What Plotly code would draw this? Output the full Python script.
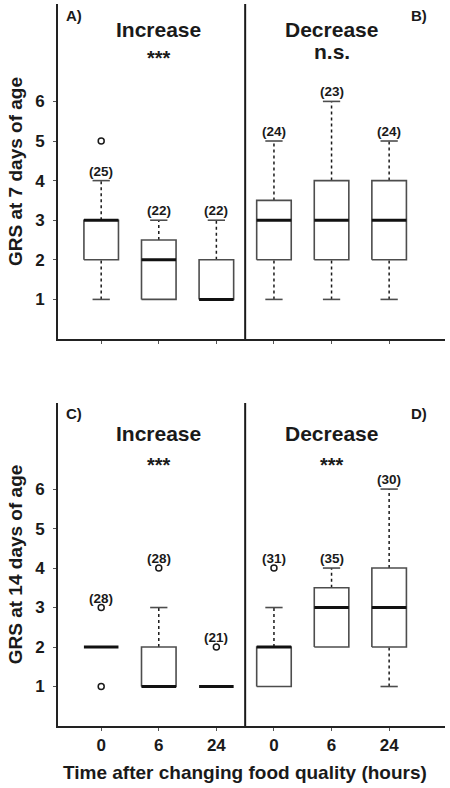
import plotly.graph_objects as go

# ---------------- data ----------------
categories = ["0", "6", "24"]
groups = ["Increase", "Decrease"]

# Top row: GRS at 7 days of age (Increase: 0,6,24 ; Decrease: 0,6,24)
top_q1 = [2, 1, 1, 2, 2, 2]
top_med = [3, 2, 1, 3, 3, 3]
top_q3 = [3, 2.5, 2, 3.5, 4, 4]
top_lo = [1, 1, 1, 1, 1, 1]
top_hi = [4, 3, 3, 5, 6, 5]
top_out = [[5], [], [], [], [], []]
top_n = [25, 22, 22, 24, 23, 24]
top_label_at = [4, 3, 3, 5, 6, 5]
top_signif = ["***", "n.s."]
top_letters = ["A)", "B)"]

# Bottom row: GRS at 14 days of age
bot_q1 = [2, 1, 1, 1, 2, 2]
bot_med = [2, 1, 1, 2, 3, 3]
bot_q3 = [2, 2, 1, 2, 3.5, 4]
bot_lo = [2, 1, 1, 1, 2, 1]
bot_hi = [2, 3, 1, 3, 4, 6]
bot_out = [[3, 1], [4], [2], [4], [], []]
bot_n = [28, 28, 21, 31, 35, 30]
bot_label_at = [3, 4, 2, 4, 4, 6]
bot_signif = ["***", "***"]
bot_letters = ["C)", "D)"]

yticks = [1, 2, 3, 4, 5, 6]

# ---------------- style ----------------
FONT = "Liberation Sans, Arial, sans-serif"
TXT = "#1a1a1a"
BOXC = "#4d4d4d"
HW = 0.30   # half box width (x units)
CW = 0.15   # half cap width

fig = go.Figure()
annotations = []


def add_panel(xa, ya, q1, med, q3, lo, hi, outs, ns, label_at):
    xref = "x" if xa == "x" else "x2"
    yref = "y" if ya == "y" else "y2"
    for i in range(len(q1)):
        p = i + 1
        # whiskers (dotted)
        if hi[i] > q3[i]:
            fig.add_trace(go.Scatter(x=[p, p], y=[q3[i], hi[i]], mode="lines",
                                     line=dict(color=TXT, width=1.5, dash="dot"),
                                     xaxis=xa, yaxis=ya, hoverinfo="skip"))
            fig.add_trace(go.Scatter(x=[p - CW, p + CW], y=[hi[i], hi[i]], mode="lines",
                                     line=dict(color=BOXC, width=1.6),
                                     xaxis=xa, yaxis=ya, hoverinfo="skip"))
        if lo[i] < q1[i]:
            fig.add_trace(go.Scatter(x=[p, p], y=[lo[i], q1[i]], mode="lines",
                                     line=dict(color=TXT, width=1.5, dash="dot"),
                                     xaxis=xa, yaxis=ya, hoverinfo="skip"))
            fig.add_trace(go.Scatter(x=[p - CW, p + CW], y=[lo[i], lo[i]], mode="lines",
                                     line=dict(color=BOXC, width=1.6),
                                     xaxis=xa, yaxis=ya, hoverinfo="skip"))
        # box
        if q3[i] > q1[i]:
            fig.add_trace(go.Scatter(x=[p - HW, p + HW, p + HW, p - HW, p - HW],
                                     y=[q1[i], q1[i], q3[i], q3[i], q1[i]], mode="lines",
                                     line=dict(color=BOXC, width=1.6),
                                     xaxis=xa, yaxis=ya, hoverinfo="skip"))
        # median
        fig.add_trace(go.Scatter(x=[p - HW, p + HW], y=[med[i], med[i]], mode="lines",
                                 line=dict(color="#111111", width=3),
                                 xaxis=xa, yaxis=ya, hoverinfo="skip"))
        # outliers
        if outs[i]:
            fig.add_trace(go.Scatter(x=[p] * len(outs[i]), y=outs[i], mode="markers",
                                     marker=dict(symbol="circle-open", size=6,
                                                 color=TXT, line=dict(width=1.5)),
                                     xaxis=xa, yaxis=ya, hoverinfo="skip"))
        # counts
        annotations.append(dict(text=f"({ns[i]})", x=p, y=label_at[i], xref=xref, yref=yref,
                                yanchor="bottom", yshift=0, showarrow=False,
                                font=dict(family=FONT, size=13.5, color=TXT, weight="bold")))
    # divider
    fig.add_trace(go.Scatter(x=[3.5, 3.5], y=[0, 20], mode="lines",
                             line=dict(color=TXT, width=2),
                             xaxis=xa, yaxis=ya, hoverinfo="skip"))
    return xref, yref


xr1, yr1 = add_panel("x", "y", top_q1, top_med, top_q3, top_lo, top_hi, top_out,
                     top_n, top_label_at)
xr2, yr2 = add_panel("x2", "y2", bot_q1, bot_med, bot_q3, bot_lo, bot_hi, bot_out,
                     bot_n, bot_label_at)


# panel headers
def headers(xref, yref, letters, signif, y_letter, y_group, y_sig):
    dom = yref + " domain"
    annotations.append(dict(text=letters[0], x=0.016, y=y_letter, xref=xref + " domain", yref=dom,
                            xanchor="left", yanchor="middle", showarrow=False,
                            font=dict(family=FONT, size=15, color=TXT, weight="bold")))
    annotations.append(dict(text=letters[1], x=0.907, y=y_letter, xref=xref + " domain", yref=dom,
                            xanchor="left", yanchor="middle", showarrow=False,
                            font=dict(family=FONT, size=15, color=TXT, weight="bold")))
    for g, gx in zip(range(2), [2, 5]):
        annotations.append(dict(text=groups[g], x=gx, y=y_group, xref=xref, yref=dom,
                                xanchor="center", yanchor="middle", showarrow=False,
                                font=dict(family=FONT, size=21, color=TXT, weight="bold")))
        sig = signif[g]
        annotations.append(dict(text=sig, x=gx, y=y_sig[g], xref=xref, yref=dom,
                                xanchor="center", yanchor="middle", showarrow=False,
                                font=dict(family=FONT, size=20 if sig == "***" else 21,
                                          color=TXT, weight="bold")))


headers(xr1, yr1, top_letters, top_signif, 0.966, 0.925, [0.838, 0.857])
headers(xr2, yr2, bot_letters, bot_signif, 0.966, 0.907, [0.808, 0.808])

annotations.append(dict(text="Time after changing food quality (hours)", x=3.5, y=-0.065,
                        xref="x2", yref="paper", xanchor="center", yanchor="middle",
                        showarrow=False,
                        font=dict(family=FONT, size=19, color=TXT, weight="bold")))

axis_common = dict(showline=True, linecolor="#222222", linewidth=2, showgrid=False,
                   zeroline=False, ticks="outside", ticklen=3, tickcolor="#555555",
                   tickwidth=1, automargin=False)
tickfont = dict(family=FONT, size=17, color=TXT, weight="bold")
positions = list(range(1, 7))

fig.update_layout(
    width=450, height=788,
    margin=dict(l=58, r=5, t=4, b=62),
    paper_bgcolor="white", plot_bgcolor="white",
    showlegend=False,
    xaxis=dict(axis_common, range=[0.25, 6.97], domain=[0, 1], anchor="y",
               tickvals=positions, ticktext=[""] * 6),
    yaxis=dict(axis_common, range=[0, 8.46], domain=[0.536, 1], anchor="x",
               tickvals=yticks, tickfont=tickfont, ticklabelstandoff=5,
               title=dict(text="GRS at 7 days of age", standoff=7,
                          font=dict(family=FONT, size=19, color=TXT, weight="bold"))),
    xaxis2=dict(axis_common, range=[0.25, 6.97], domain=[0, 1], anchor="y2",
                tickvals=positions, ticktext=categories * 2, tickfont=tickfont),
    yaxis2=dict(axis_common, range=[0, 8.18], domain=[0, 0.4474], anchor="x2",
                tickvals=yticks, tickfont=tickfont, ticklabelstandoff=5,
                title=dict(text="GRS at 14 days of age", standoff=7,
                           font=dict(family=FONT, size=19, color=TXT, weight="bold"))),
    annotations=annotations,
)

fig.write_html("out.html", config={"displayModeBar": False},
               post_script="document.body.style.margin='0';")
